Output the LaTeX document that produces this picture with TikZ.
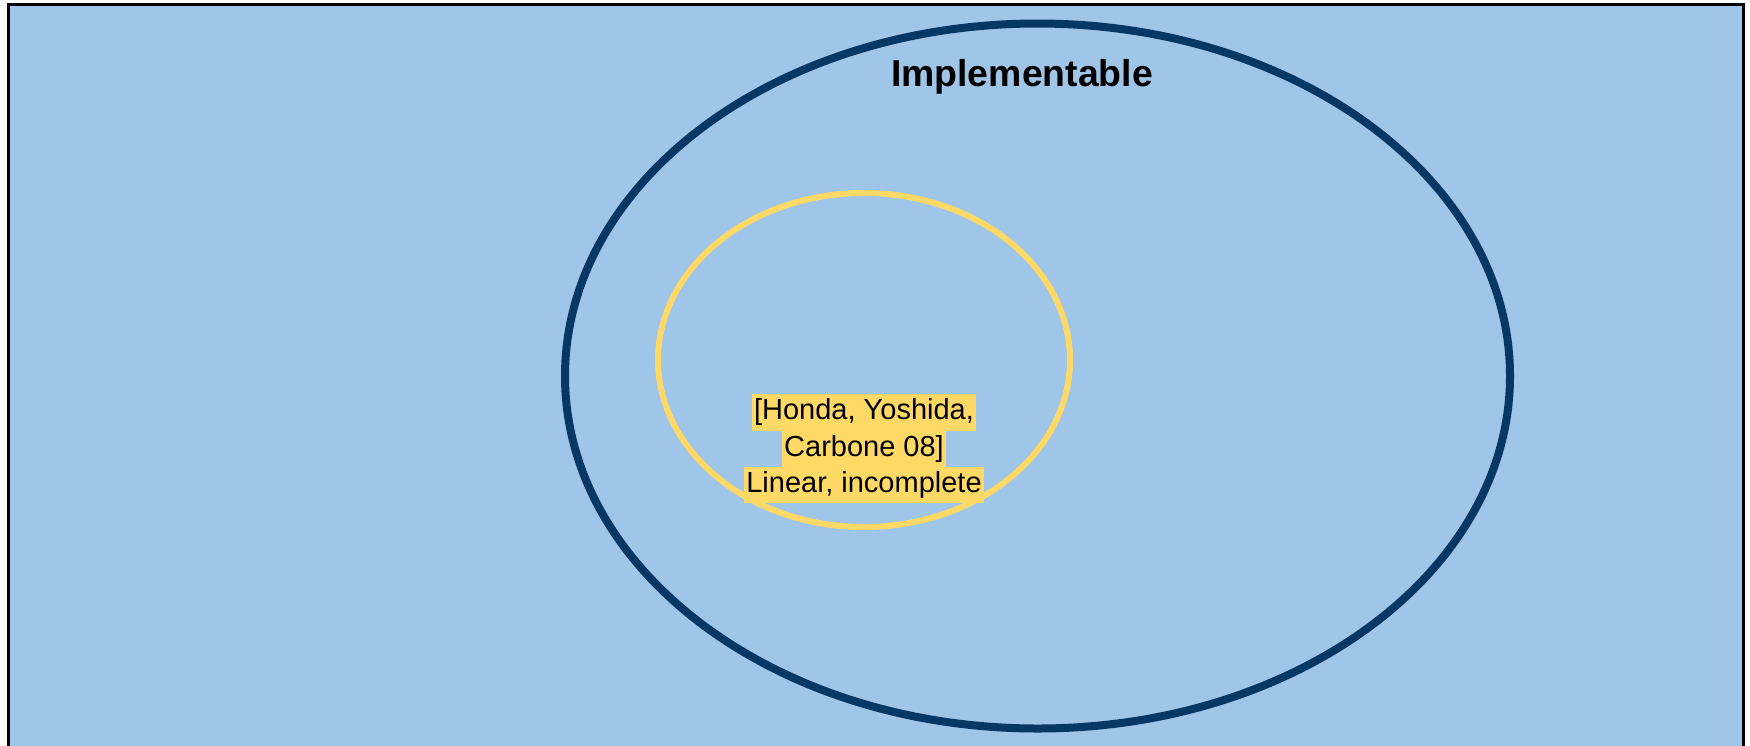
\documentclass[tikz,border=0pt]{standalone}
\usepackage{fontspec}
\setmainfont{Liberation Sans}
\usetikzlibrary{shapes.geometric}
\definecolor{bgblue}{HTML}{9FC5E8}
\definecolor{darkblue}{HTML}{073763}
\definecolor{gold}{HTML}{FFD966}
\tikzset{
  setshape/.style={ellipse, inner sep=0pt, outer sep=0pt},
  outerset/.style={setshape, draw=darkblue, line width=4pt, minimum width=472.5pt, minimum height=352.5pt},
  innerset/.style={setshape, draw=gold, line width=3pt, minimum width=206pt, minimum height=167pt},
  hl/.style={fill=gold, inner xsep=1pt, inner ysep=0pt, text height=12.8pt, text depth=5.45pt, font=\fontsize{14.5pt}{17pt}\selectfont},
  title/.style={font=\bfseries\fontsize{18.7pt}{22pt}\selectfont, inner sep=0pt, anchor=base}
}
\begin{document}
\begin{tikzpicture}[x=0.5pt,y=-0.5pt]
\useasboundingbox (0,0) rectangle (1750,745);
\fill[bgblue] (8.5,4.5) rectangle (1743.5,760);
\draw[black, line width=1.5pt] (8.5,760) -- (8.5,4.5) -- (1743.5,4.5) -- (1743.5,760);
\node[outerset] (impl) at (1037.5,376) {};
\node[innerset] (lin) at (864,360) {};
\node[title] (impllabel) at (1022,86) {Implementable};
\node[hl] (l1) at (864,412.5) {[Honda, Yoshida,};
\node[hl] (l2) at (864,448.8) {Carbone 08]};
\node[hl] (l3) at (864,485.1) {Linear, incomplete};
\end{tikzpicture}
\end{document}
